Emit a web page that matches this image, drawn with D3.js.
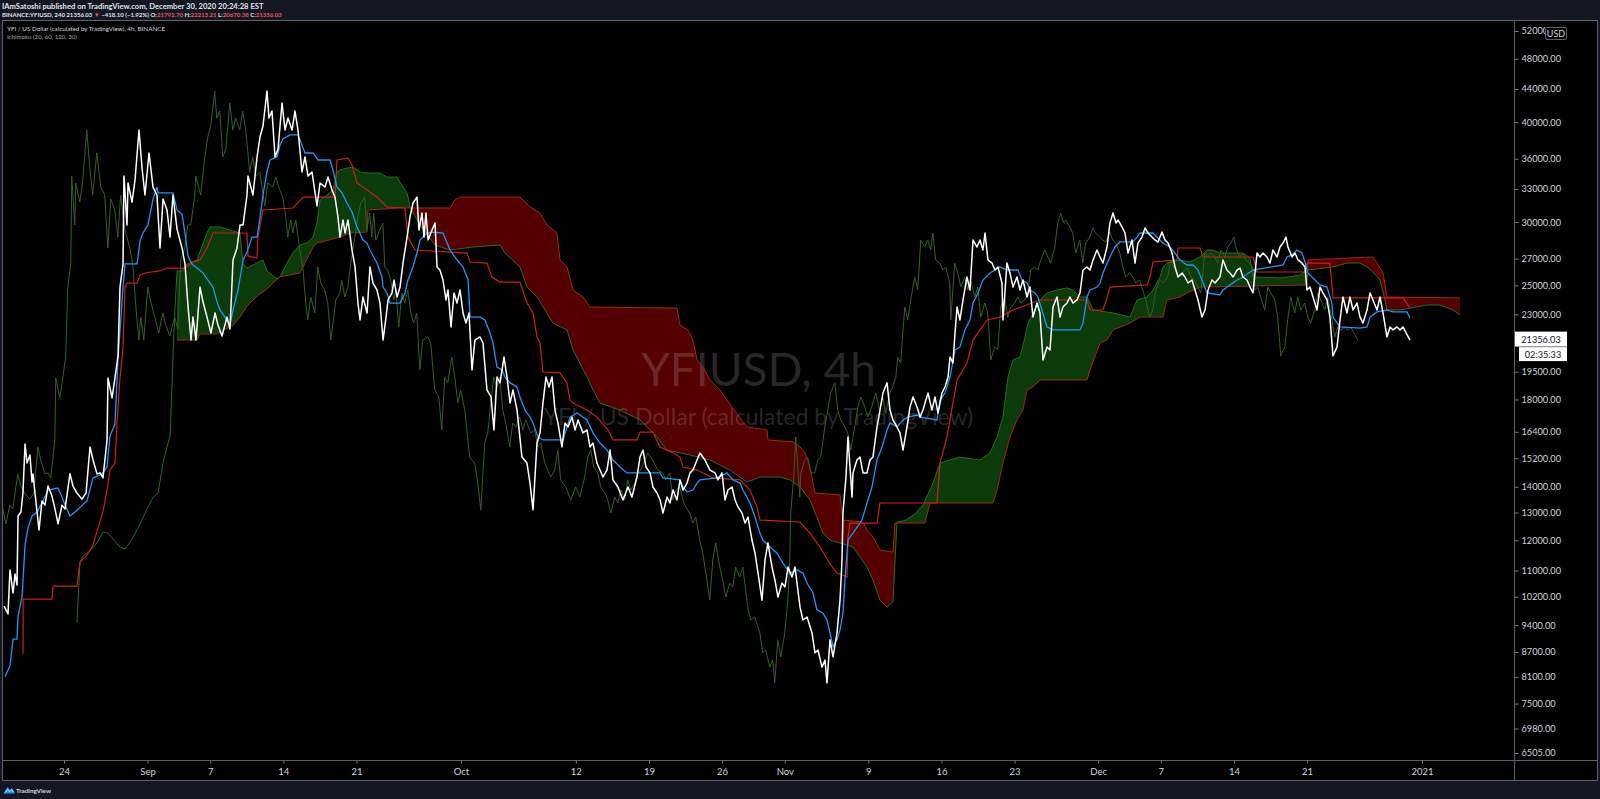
<!DOCTYPE html>
<html><head><meta charset="utf-8">
<script src="https://cdn.jsdelivr.net/npm/d3@7"></script>
<style>
html,body{margin:0;padding:0;background:#131722;overflow:hidden}
svg{display:block}
</style></head>
<body><svg id="c" width="1600" height="799"></svg>
<script>
// ---- DATA (days are offsets from 24 Aug 2020 00:00, values in USD) ----
const closeSeries = [[-5.74,9930],[-5.36,9710],[-5.17,11020],[-4.88,10310],[-4.69,10890],[-4.50,10550],[-4.40,12870],[-4.12,13020],[-3.93,13750],[-3.73,15830],[-3.54,14990],[-3.26,15340],[-3.06,14190],[-2.97,14525],[-2.58,13020],[-2.39,12360],[-2.11,13440],[-1.82,13280],[-1.53,14030],[-1.15,13630],[-0.86,13130],[-0.57,12580],[-0.19,13280],[0.10,13130],[0.57,14530],[0.86,14030],[1.24,13750],[1.72,13510],[2.11,13750],[2.49,15700],[2.78,15120],[3.16,14530],[3.45,14570],[3.73,14360],[4.12,16020],[4.21,19150],[4.60,18080],[4.88,19150],[5.17,20400],[5.36,24880],[5.65,26590],[5.74,34250],[6.03,29750],[6.13,33570],[6.51,31780],[6.80,33860],[7.18,39100],[7.47,35050],[7.75,32430],[8.14,36600],[8.52,33180],[8.90,32430],[9.19,27840],[9.48,32050],[9.86,31060],[10.15,28730],[10.43,32430],[10.82,29400],[11.30,27840],[11.58,26590],[11.87,23560],[12.16,21360],[12.35,22820],[12.64,21360],[13.02,24880],[13.31,23830],[13.69,22820],[14.07,21800],[14.46,23090],[14.74,22300],[15.13,21610],[15.60,22820],[15.89,22050],[16.18,26900],[16.56,27840],[16.85,29750],[17.14,29750],[17.52,32430],[17.61,34250],[18.09,32430],[18.48,36180],[18.76,38320],[19.05,39560],[19.43,43750],[19.62,40470],[19.91,41300],[20.20,36180],[20.49,37010],[20.87,42260],[21.16,39100],[21.44,40470],[21.83,39100],[22.11,41300],[22.40,39100],[22.78,34650],[23.07,36180],[23.36,34250],[23.74,34650],[24.22,31420],[24.51,33570],[24.99,33180],[25.27,34150],[25.66,32900],[25.94,32240],[26.23,30430],[26.42,28730],[26.71,30180],[26.90,29070],[27.19,30180],[27.57,27680],[27.86,26360],[28.14,23760],[28.34,22630],[28.62,24180],[29.01,23090],[29.29,26360],[29.58,25170],[29.96,24670],[30.25,23760],[30.54,21360],[30.83,22820],[31.02,23970],[31.40,24460],[31.59,25390],[31.88,24180],[32.17,24880],[32.45,26660],[32.84,28730],[33.12,30430],[33.41,31690],[33.79,32240],[33.98,29320],[34.27,30790],[34.46,28730],[34.65,30790],[34.85,28490],[35.23,29320],[35.52,29920],[35.71,26360],[35.99,26130],[36.28,25390],[36.57,23970],[36.76,24670],[37.05,22180],[37.34,24460],[37.62,23760],[37.91,24670],[38.20,23090],[38.48,22430],[38.77,23090],[39.06,19600],[39.34,21360],[39.82,21550],[40.11,21180],[40.49,18500],[40.88,18130],[41.16,16490],[41.45,19200],[41.74,18880],[42.12,20340],[42.41,19200],[42.70,17820],[42.98,18500],[43.37,17460],[43.84,15250],[44.32,14990],[44.61,14150],[44.90,13100],[45.28,15880],[45.57,16350],[45.85,17820],[46.14,19200],[46.43,18660],[46.72,19200],[47.00,17460],[47.29,16820],[47.67,15700],[47.96,16820],[48.25,16630],[48.63,17110],[48.92,16490],[49.21,16970],[49.68,16350],[50.07,16490],[50.35,15700],[50.64,15880],[51.02,14990],[51.31,14690],[51.60,14400],[51.98,14690],[52.27,15560],[52.55,14280],[53.03,13990],[53.51,13480],[53.99,13990],[54.37,13590],[54.85,14400],[55.14,15250],[55.43,15560],[55.71,14820],[56.10,14570],[56.38,13990],[56.77,13750],[57.06,13480],[57.34,12980],[57.73,13590],[58.01,13360],[58.30,13870],[58.68,13480],[58.97,14280],[59.26,13870],[59.64,14150],[59.93,14570],[60.21,14690],[60.60,15120],[60.88,15430],[61.36,15120],[61.84,14690],[62.32,14570],[62.61,14280],[62.99,14570],[63.28,13480],[63.56,13870],[63.95,13990],[64.24,13480],[64.52,13210],[64.91,12980],[65.19,12610],[65.48,12830],[65.86,12010],[66.15,11570],[66.44,10920],[66.82,10100],[67.11,11340],[67.39,11910],[67.78,11110],[68.06,10700],[68.35,10190],[68.73,10610],[69.02,10490],[69.31,11110],[69.69,10800],[69.98,11110],[70.46,9900],[70.74,9540],[71.13,9620],[71.61,9190],[71.89,8680],[72.18,8750],[72.56,8330],[72.85,8500],[73.04,7960],[73.33,9010],[73.62,8580],[74.00,9190],[74.29,10100],[74.48,11340],[74.57,12980],[74.86,14400],[75.05,16160],[75.44,13590],[75.53,14570],[75.91,15120],[76.20,15250],[76.49,14570],[76.87,14570],[77.16,15120],[77.44,15250],[77.83,16630],[78.12,17460],[78.40,18340],[78.79,18880],[79.07,17460],[79.36,16970],[79.74,16630],[80.03,16350],[80.32,15560],[80.70,16630],[80.99,17610],[81.28,18130],[81.66,17610],[81.95,17110],[82.23,17460],[82.71,18340],[83.09,17460],[83.38,18130],[83.67,17310],[84.05,18340],[84.34,18660],[84.63,19200],[84.82,20340],[85.10,19990],[85.30,21800],[85.49,23490],[85.77,22630],[86.06,23970],[86.44,25610],[86.73,24670],[87.02,28490],[87.40,27920],[87.69,28490],[87.97,27680],[88.17,29070],[88.45,26900],[88.84,26660],[89.12,26130],[89.41,26360],[89.79,25170],[89.89,22630],[90.27,26660],[90.56,25910],[90.85,24880],[91.23,25610],[91.52,24670],[91.80,25390],[92.19,24180],[92.47,24880],[92.76,22820],[93.15,23760],[93.43,23090],[93.72,20170],[94.10,20940],[94.39,20760],[94.68,23490],[95.06,24180],[95.35,22820],[95.63,23490],[96.02,23760],[96.30,24180],[96.59,23760],[96.97,23970],[97.26,24460],[97.55,26130],[97.93,26360],[98.22,26130],[98.51,26900],[98.89,27680],[99.18,27130],[99.46,26660],[99.85,27920],[100.13,29920],[100.42,30790],[100.71,29920],[100.90,30180],[101.28,29580],[101.57,29070],[101.86,27440],[102.24,28490],[102.53,26660],[102.81,28240],[103.20,28730],[103.49,29490],[103.77,29070],[104.15,28730],[104.44,28490],[104.73,28320],[105.11,29150],[105.40,28490],[105.69,28240],[106.07,27440],[106.36,26360],[106.64,25610],[107.03,25910],[107.31,25610],[107.60,25170],[107.98,25390],[108.27,24670],[108.56,23970],[108.94,22820],[109.23,23290],[109.52,24670],[109.90,25390],[110.19,25170],[110.66,25610],[110.95,26900],[111.33,26130],[111.62,25910],[111.91,25610],[112.29,26130],[112.58,26280],[112.86,25610],[113.25,25390],[113.54,24880],[113.82,24460],[114.21,27440],[114.49,27130],[114.78,27440],[115.16,27130],[115.45,26660],[115.74,27680],[116.12,27130],[116.41,27920],[116.70,28240],[116.98,28730],[117.17,27920],[117.56,27130],[117.84,27440],[118.13,26900],[118.51,26660],[118.80,26360],[118.99,24670],[119.28,24880],[119.57,24180],[119.95,23290],[120.24,24880],[120.52,24460],[120.91,23970],[121.19,22820],[121.48,20400],[121.87,20940],[122.15,22630],[122.44,24180],[122.82,23090],[123.11,24180],[123.40,23290],[123.78,23760],[124.07,22820],[124.35,22430],[124.74,23290],[125.03,24460],[125.31,23970],[125.70,23290],[125.98,24180],[126.27,23090],[126.65,21550],[126.94,22180],[127.23,21990],[127.61,22180],[127.90,21990],[128.18,22180],[128.57,21700],[128.85,21356.03]];

const conversionLine = [[-5.65,8100],[-5.17,8360],[-4.88,9030],[-4.50,9030],[-4.40,9650],[-4.02,10190],[-3.73,11840],[-3.45,12430],[-3.06,12870],[-2.58,13020],[-2.01,13440],[-1.53,13870],[-0.57,13950],[-0.19,13590],[0.10,13280],[0.57,12870],[1.05,13020],[2.20,13440],[2.78,14360],[3.64,14530],[4.12,14820],[4.40,16200],[4.88,16770],[5.17,20230],[5.65,24880],[5.84,26590],[6.99,26590],[7.28,28410],[7.56,29070],[8.04,29750],[8.52,32050],[8.90,33180],[9.00,32620],[10.43,32620],[10.82,31060],[11.30,30700],[11.58,29070],[11.87,27210],[12.25,26590],[12.73,26280],[13.31,25910],[13.69,25470],[14.26,24880],[14.65,23830],[14.93,23290],[15.41,22820],[15.89,22300],[16.18,23290],[16.66,24670],[17.14,26900],[17.52,27520],[18.00,28730],[18.48,28730],[18.76,30350],[19.05,32430],[19.43,34650],[19.72,35870],[20.39,36180],[20.68,37450],[20.96,38100],[21.63,38550],[22.40,38550],[22.78,37450],[23.07,36600],[23.84,36600],[24.32,35870],[25.46,35870],[25.75,34850],[26.13,33180],[26.61,32620],[27.09,31690],[27.57,30880],[28.05,29580],[28.62,28490],[29.01,28240],[29.29,27680],[29.96,26660],[30.44,25610],[30.54,24880],[30.92,24460],[31.21,23760],[32.17,23760],[32.64,24460],[32.93,25390],[33.41,26360],[33.79,27440],[34.08,28490],[34.75,29070],[35.32,29150],[36.28,29070],[36.95,27680],[37.62,26900],[38.20,26360],[38.68,25390],[38.87,22820],[39.82,22820],[40.30,22630],[40.78,21800],[41.07,21180],[41.45,19760],[41.93,19600],[42.22,19200],[42.70,18880],[43.37,18660],[43.65,18130],[44.13,17460],[44.61,17110],[44.90,16820],[45.38,16160],[45.85,16020],[47.77,16020],[48.44,17110],[49.11,17310],[50.07,16970],[50.64,16350],[51.31,15880],[51.98,15560],[52.56,15120],[53.23,14820],[53.90,14570],[57.05,14570],[57.34,14360],[58.97,14280],[59.26,13990],[59.64,13790],[60.21,13870],[60.60,14150],[60.88,14280],[62.51,14360],[63.47,14570],[64.04,14280],[64.71,14150],[65.00,13870],[65.67,13360],[66.15,12830],[66.63,12250],[66.91,12010],[67.58,11770],[68.25,11570],[68.83,11240],[69.50,10920],[70.17,11020],[70.74,10920],[71.13,10610],[71.70,10310],[72.08,9820],[72.66,9730],[73.04,9540],[73.33,9190],[73.62,8830],[74.00,9010],[74.29,9270],[74.57,9730],[74.76,10700],[75.05,12010],[75.53,12250],[76.39,12720],[76.87,13360],[77.35,13990],[77.83,15120],[78.31,15700],[78.79,16490],[79.07,16820],[79.74,16630],[80.32,16970],[80.80,17110],[81.66,17210],[81.95,17110],[83.57,16970],[83.86,17970],[84.34,18340],[84.82,19200],[85.30,20760],[85.77,20940],[86.25,21990],[86.73,22630],[87.02,23760],[87.50,24460],[87.97,25390],[88.65,25910],[89.12,26130],[89.60,26360],[90.27,26130],[91.33,26130],[91.71,25390],[92.19,25170],[92.47,24670],[92.95,24460],[93.24,24180],[93.62,23290],[94.10,22180],[94.68,21990],[97.26,21990],[97.55,22430],[97.93,24180],[98.22,24670],[98.89,24880],[99.18,25170],[99.46,25910],[100.13,27130],[100.61,27920],[101.09,28330],[102.33,28330],[102.72,28730],[103.00,29070],[104.25,29070],[105.21,28240],[105.88,27920],[106.36,27440],[106.83,26900],[107.50,26510],[108.08,26510],[108.56,26130],[108.94,25390],[109.42,24460],[110.66,24320],[110.95,24670],[111.62,25030],[112.29,25390],[112.86,25610],[113.82,26130],[116.70,26510],[117.08,27130],[117.56,27290],[118.03,27680],[118.51,27440],[118.80,26740],[119.08,25910],[119.56,25540],[120.24,25030],[120.91,24880],[121.38,23760],[121.48,22820],[122.15,22180],[124.07,22110],[124.74,22180],[125.03,22820],[125.70,23160],[126.65,23290],[127.23,23160],[128.57,23160],[128.85,22760]];

const baseLine = [[-3.92,8650],[-3.91,10130],[-1.15,10130],[-1.05,10520],[1.24,10520],[1.53,11270],[2.20,11500],[2.78,11840],[3.25,12430],[3.73,13020],[4.12,13870],[4.40,14690],[4.88,14990],[5.07,16770],[5.36,19150],[5.65,20880],[5.84,24880],[6.03,25170],[6.99,25170],[7.28,25760],[7.75,25910],[9.19,26060],[9.86,26280],[11.58,26280],[12.35,26740],[13.02,26900],[13.69,27840],[14.26,29070],[17.52,29070],[17.61,27210],[18.48,27050],[18.57,28730],[19.05,31060],[21.92,31240],[22.88,32240],[25.94,32240],[26.13,35870],[27.19,36070],[27.57,35360],[28.05,33570],[29.01,32900],[29.96,32240],[30.92,31330],[32.64,31240],[32.93,28730],[33.60,27680],[38.58,27440],[38.87,26740],[40.49,26660],[40.97,25610],[41.74,25240],[43.65,25240],[44.32,23760],[44.90,23090],[45.28,21550],[45.57,21180],[45.85,19480],[47.48,19430],[48.15,18880],[48.44,17970],[48.73,17820],[50.07,17460],[51.02,17110],[52.08,16490],[52.56,16020],[54.85,16020],[55.14,16390],[56.38,16390],[57.05,15700],[58.20,15470],[58.97,15250],[59.26,14820],[60.60,14690],[62.13,14360],[64.71,14280],[65.67,13870],[66.34,13210],[66.63,12720],[70.46,12650],[71.41,12250],[72.37,11770],[73.33,11210],[74.00,10920],[74.96,10800],[75.05,12110],[75.24,12610],[77.83,12610],[78.12,13360],[83.57,13360],[83.86,14990],[84.53,16160],[85.10,17820],[85.49,19040],[86.44,19990],[87.02,21360],[87.50,21800],[88.36,22630],[89.60,22820],[90.85,23290],[93.43,23970],[97.93,23970],[98.22,23290],[99.46,23290],[99.85,24110],[100.13,24880],[103.68,25030],[103.96,25610],[104.25,26740],[106.55,26900],[106.64,27840],[108.75,27840],[109.04,27130],[113.82,27130],[114.21,25980],[118.80,25980],[118.99,26660],[121.19,26660],[121.48,24110],[128.18,24110],[128.85,23420]];

const leadingSpanA = [[1.24,9460],[1.53,11270],[1.82,11470],[2.49,11640],[3.16,11910],[3.73,12290],[4.21,12250],[4.69,12040],[5.36,11770],[5.84,11700],[6.51,12040],[7.28,12580],[7.95,13130],[8.52,13590],[9.00,13750],[9.48,14990],[9.86,15700],[10.15,16200],[10.34,18710],[10.43,20400],[10.62,23290],[10.82,26060],[11.30,26060],[11.77,26590],[12.73,26900],[13.69,29070],[13.98,29580],[14.93,29580],[16.18,29240],[16.85,29070],[17.14,26590],[17.52,26280],[19.05,26900],[19.43,26060],[20.39,25470],[20.68,25610],[21.35,26660],[21.92,27440],[22.59,28080],[23.26,28240],[23.84,28730],[24.22,29920],[24.51,31970],[25.18,32430],[25.75,32900],[26.13,34650],[26.42,34850],[27.09,35050],[27.67,35150],[28.34,34650],[29.01,34550],[30.25,34550],[30.92,34150],[31.88,34150],[32.45,33180],[32.84,32620],[33.12,31330],[34.08,29750],[35.52,28080],[36.95,27680],[39.15,27920],[41.74,28080],[42.22,27440],[43.65,26360],[44.32,24880],[45.28,24180],[46.81,22430],[48.15,21990],[48.73,20760],[50.07,19200],[50.64,18500],[51.31,17820],[53.23,17460],[55.14,16970],[56.77,16160],[57.73,15560],[59.93,15340],[61.84,15120],[63.76,14690],[65.38,14190],[66.63,14400],[68.54,14400],[69.50,14280],[70.46,13990],[71.41,13480],[72.08,12830],[72.66,12250],[73.33,12010],[75.53,11770],[76.20,11440],[76.87,11110],[77.45,10700],[78.12,10100],[78.79,9900],[79.36,10050],[79.74,12650],[80.51,12700],[81.47,12950],[82.23,13280],[83.19,14150],[83.86,14990],[85.77,15250],[87.69,15120],[88.65,15430],[89.32,16160],[89.89,17110],[90.37,19200],[90.85,20170],[91.52,20340],[92.00,21550],[92.28,22430],[92.76,23090],[93.43,23970],[94.10,24460],[95.06,24670],[96.02,24810],[96.59,24670],[97.26,24180],[97.93,24180],[98.22,23760],[98.51,23290],[100.42,23090],[102.05,22820],[102.72,23970],[103.68,24180],[104.25,24670],[104.92,25610],[105.21,26360],[105.59,26660],[106.83,26900],[107.79,26740],[108.75,27130],[109.42,27680],[109.99,27680],[110.66,27440],[112.86,27440],[113.54,27050],[113.82,25610],[116.70,25540],[118.32,25760],[118.99,26130],[121.48,26360],[122.82,26660],[124.07,26660],[124.74,26360],[125.31,25980],[125.98,25390],[126.46,23970],[126.65,23290],[127.90,23290],[130.48,23630],[131.72,23630],[132.97,23290],[133.64,22960]];

const leadingSpanB = [[10.82,21360],[12.73,21360],[13.02,21740],[14.65,21740],[16.18,22300],[16.85,22820],[17.52,23560],[18.09,23970],[18.76,24390],[19.43,24740],[20.01,25170],[20.68,25610],[22.59,25910],[23.84,27920],[24.22,28240],[26.42,28730],[27.38,29070],[29.01,29150],[29.10,31060],[32.17,31240],[36.95,31240],[37.43,31970],[37.91,32240],[43.65,32240],[44.61,31330],[45.57,30790],[46.24,29750],[47.19,29070],[47.48,26900],[48.15,26360],[48.73,24670],[49.68,24180],[50.35,23490],[58.68,23420],[58.97,22300],[59.73,21990],[60.21,21360],[60.60,20170],[61.17,19760],[61.84,19040],[62.80,18500],[63.47,17970],[63.95,17610],[65.38,16630],[67.30,16490],[67.39,16020],[69.79,15930],[70.46,15700],[70.94,15430],[71.41,14820],[71.89,13750],[74.29,13670],[74.57,12720],[76.49,12650],[76.87,12360],[77.45,12110],[78.12,11670],[79.36,11600],[79.55,12610],[82.42,12610],[82.90,13360],[88.93,13360],[89.32,13870],[89.89,14990],[90.56,16160],[91.23,16970],[91.80,17460],[92.19,18500],[92.76,18660],[93.43,19040],[97.93,19040],[98.22,19600],[99.18,21180],[99.85,21360],[100.42,21990],[102.05,22430],[103.00,22820],[105.21,22820],[105.59,23970],[106.83,24180],[107.50,24460],[108.75,24880],[118.99,25030],[119.08,26900],[125.31,27130],[125.70,26660],[126.27,25910],[126.65,24180],[133.64,24110]];

const LAG_DAYS = 5; // Ichimoku displacement: 30 bars of 4h

const priceTicks = [52000,48000,44000,40000,36000,33000,30000,27000,25000,23000,19500,18000,16400,15200,14000,13000,12000,11000,10200,9400,8700,8100,7500,6980,6505];
const timeTickDays = [0,8,14,21,28,38,49,56,63,69,77,84,91,99,105,112,119,130];
const timeTickLabels = ["24","Sep","7","14","21","Oct","12","19","26","Nov","9","16","23","Dec","7","14","21","2021"];

const lastPrice = 21356.03;
const countdown = "02:35:33";

// ---- DRAWING ----
const W = 1600, H = 799;
const PL = 3, PR = 1514, PT = 21, PB = 760;
const BASE = Date.UTC(2020, 7, 24);
const toDate = d => new Date(BASE + d * 864e5);

const x = d3.scaleUtc().domain([toDate(-5.84), toDate(138.81)]).range([PL, PR]);
const y = d3.scaleLog().domain([6505, 52000]).range([753, 31]);
const px = p => x(toDate(p[0]));
const py = p => y(p[1]);

const svg = d3.select("#c");
svg.append("rect").attr("width", W).attr("height", H).attr("fill", "#131722");
svg.append("rect").attr("x", 2).attr("y", 20).attr("width", 1596).attr("height", 761).attr("fill", "#000");

const defs = svg.append("defs");
defs.append("clipPath").attr("id", "plotClip").append("rect")
  .attr("x", PL).attr("y", PT).attr("width", PR - PL).attr("height", PB - PT);
defs.append("clipPath").attr("id", "aboveB").append("path")
  .attr("d", d3.area().x(px).y0(PT).y1(py)(leadingSpanB));
defs.append("clipPath").attr("id", "belowB").append("path")
  .attr("d", d3.area().x(px).y0(py).y1(PB)(leadingSpanB));
// clip in the tick's own coordinates (tick origin is at the axis line)
defs.append("clipPath").attr("id", "usdClip").append("rect")
  .attr("x", 0).attr("y", -10).attr("width", 30.5).attr("height", 20);

const plot = svg.append("g").attr("clip-path", "url(#plotClip)");

// cloud fills
plot.append("path").attr("d", d3.area().x(px).y0(py).y1(PB)(leadingSpanA))
  .attr("fill", "#0b3a0b").attr("clip-path", "url(#aboveB)");
plot.append("path").attr("d", d3.area().x(px).y0(PT).y1(py)(leadingSpanA))
  .attr("fill", "#540000").attr("clip-path", "url(#belowB)");

// watermark
const cx = (PL + PR) / 2;
plot.append("text").attr("x", cx).attr("y", 386).attr("text-anchor", "middle")
  .attr("font-family", "Lato").attr("font-size", 46)
  .attr("fill", "rgba(255,255,255,0.16)").text("YFIUSD, 4h");
plot.append("text").attr("x", cx).attr("y", 425).attr("text-anchor", "middle")
  .attr("font-family", "Lato").attr("font-size", 23)
  .attr("fill", "rgba(255,255,255,0.16)").text("YFI / US Dollar (calculated by TradingView)");

const line = d3.line().x(px).y(py);
const lagging = closeSeries.map(p => [p[0] - LAG_DAYS, p[1]]);

plot.append("path").attr("d", line(leadingSpanA)).attr("fill", "none").attr("stroke", "#2b6a22").attr("stroke-width", 1);
plot.append("path").attr("d", line(leadingSpanB)).attr("fill", "none").attr("stroke", "#9a2a18").attr("stroke-width", 1);
plot.append("path").attr("d", line(lagging)).attr("fill", "none").attr("stroke", "#365f26").attr("stroke-width", 1);
plot.append("path").attr("d", line(baseLine)).attr("fill", "none").attr("stroke", "#cc1f1f").attr("stroke-width", 1.2);
plot.append("path").attr("d", line(conversionLine)).attr("fill", "none").attr("stroke", "#2196f3").attr("stroke-width", 1.3);
plot.append("path").attr("d", line(closeSeries)).attr("fill", "none").attr("stroke", "#ffffff").attr("stroke-width", 1.5).attr("stroke-linejoin", "round");

// frame and separators
const gridC = "#5d606b";
svg.append("rect").attr("x", 2.5).attr("y", 20.5).attr("width", 1595).attr("height", 760)
  .attr("fill", "none").attr("stroke", gridC);
svg.append("line").attr("x1", PR + 0.5).attr("x2", PR + 0.5).attr("y1", 20.5).attr("y2", 780.5).attr("stroke", gridC);
svg.append("line").attr("x1", 2.5).attr("x2", 1597.5).attr("y1", PB + 0.5).attr("y2", PB + 0.5).attr("stroke", gridC);

// price axis
const gy = svg.append("g").attr("transform", `translate(${PR + 0.5},0)`)
  .call(d3.axisRight(y).tickValues(priceTicks).tickFormat(d3.format(".2f")).tickSize(4).tickPadding(3));
gy.select(".domain").remove();
gy.attr("font-family", "Lato").attr("font-size", 9.2);
gy.selectAll("line").attr("stroke", "#787b86");
gy.selectAll("text").attr("fill", "#d1d4dc");
// the top label is partly hidden behind the currency box, as in the original
gy.selectAll(".tick").filter(d => d === 52000).select("text").attr("clip-path", "url(#usdClip)");

// time axis
const gx = svg.append("g").attr("transform", `translate(0,${PB + 0.5})`)
  .call(d3.axisBottom(x).tickValues(timeTickDays.map(toDate)).tickFormat((d, i) => timeTickLabels[i]).tickSize(3).tickPadding(5));
gx.select(".domain").remove();
gx.attr("font-family", "Lato").attr("font-size", 9.5);
gx.selectAll("line").attr("stroke", "#787b86");
gx.selectAll("text").attr("fill", "#d1d4dc");

// USD box
svg.append("rect").attr("x", 1545.5).attr("y", 27.5).attr("width", 21).attr("height", 12)
  .attr("fill", "#000").attr("stroke", "#5d606b").attr("rx", 1.5);
svg.append("text").attr("x", 1556).attr("y", 36.8).attr("text-anchor", "middle")
  .attr("font-family", "Lato").attr("font-size", 9).attr("fill", "#d1d4dc").text("USD");

// last price label + countdown
const ly = y(lastPrice);
svg.append("rect").attr("x", PR + 1).attr("y", ly - 8.5).attr("width", 52).attr("height", 15).attr("fill", "#ffffff");
svg.append("text").attr("x", PR + 27).attr("y", ly + 2.5).attr("text-anchor", "middle")
  .attr("font-family", "Lato").attr("font-size", 9.2).attr("fill", "#131722").text(d3.format(".2f")(lastPrice));
svg.append("rect").attr("x", PR + 5).attr("y", ly + 7).attr("width", 48).attr("height", 14).attr("fill", "#ffffff");
svg.append("text").attr("x", PR + 29).attr("y", ly + 17.5).attr("text-anchor", "middle")
  .attr("font-family", "Lato").attr("font-size", 9.2).attr("fill", "#131722").text(countdown);

// helper: scale font size so a text gets a given width
function fitWidth(sel, target) {
  const fs = +sel.attr("font-size");
  const w = sel.node().getComputedTextLength();
  if (w > 0) sel.attr("font-size", (fs * target / w).toFixed(2));
  return sel;
}

// header
fitWidth(svg.append("text").attr("x", 2).attr("y", 8.6).attr("font-family", "Lato").attr("font-weight", 700)
  .attr("font-size", 7).attr("fill", "#e0e3eb")
  .text("IAmSatoshi published on TradingView.com, December 30, 2020 20:24:28 EST"), 262);
const h2 = svg.append("text").attr("x", 2).attr("y", 16.8).attr("font-family", "Lato").attr("font-weight", 700)
  .attr("font-size", 7).attr("fill", "#e0e3eb");
const red = "#ef5350";
[["BINANCE:YFIUSD, 240 21356.03 ", null], ["▼", red], [" −418.10 (−1.92%) O:", null], ["21792.70", red],
 [" H:", null], ["22213.21", red], [" L:", null], ["20670.38", red], [" C:", null], ["21356.03", red]]
  .forEach(([t, c]) => { const s = h2.append("tspan").text(t); if (c) s.attr("fill", c); });
fitWidth(h2, 280);

// legend
fitWidth(svg.append("text").attr("x", 7).attr("y", 31.3).attr("font-family", "Lato").attr("font-size", 6.2)
  .attr("fill", "#d1d4dc").text("YFI / US Dollar (calculated by TradingView), 4h, BINANCE"), 158);
fitWidth(svg.append("text").attr("x", 7).attr("y", 38.8).attr("font-family", "Lato").attr("font-size", 6.2)
  .attr("fill", "#a3a6af").text("Ichimoku (20, 60, 120, 30)"), 70);

// footer logo
const logo = svg.append("g").attr("transform", "translate(3,785.5)");
logo.append("path").attr("d", "M0.5,8 L4.5,1.5 L7,4.5 L9,2.5 L12,8 Z").attr("fill", "#2196f3");
logo.append("path").attr("d", "M2,7 L4.6,4 L6.8,6 L9,4.3 L10.6,6.6").attr("fill", "none").attr("stroke", "#fff").attr("stroke-width", 0.7);
fitWidth(svg.append("text").attr("x", 16).attr("y", 793).attr("font-family", "Lato").attr("font-weight", 700)
  .attr("font-size", 6.2).attr("fill", "#d1d4dc").text("TradingView"), 35);
</script>
</body></html>
